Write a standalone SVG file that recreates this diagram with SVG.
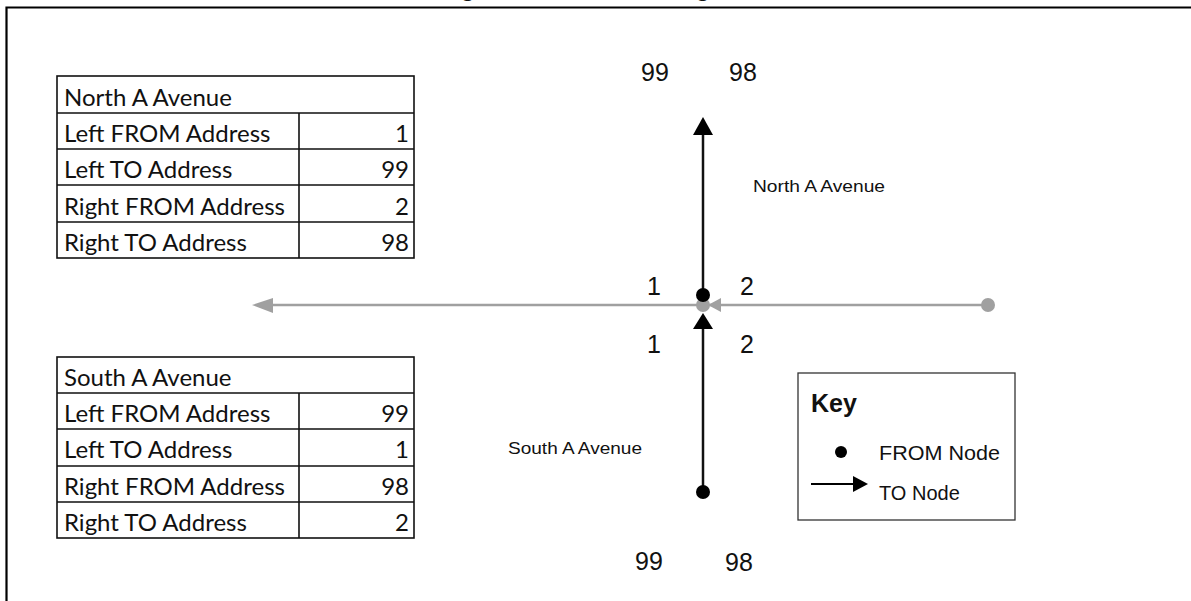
<svg xmlns="http://www.w3.org/2000/svg" width="1191" height="601" viewBox="0 0 1191 601">
<defs>
<style>
.tbl{fill:none;stroke:#111;stroke-width:1.6}
.tt{font-family:Lato,"Open Sans",sans-serif;font-size:24px;fill:#111}
.num{font-family:"Liberation Sans",Arial,sans-serif;font-size:25px;fill:#111}
.lbl{font-family:"Liberation Sans",Arial,sans-serif;font-size:17px;fill:#111}
.road{stroke:#111;stroke-width:2.5}
.groad{stroke:#a0a0a0;stroke-width:2.5}
</style>
</defs>
<rect width="1191" height="601" fill="#fff"/>
<g id="frame">
<path d="M6.5 601 V7.5 H1191" fill="none" stroke="#000" stroke-width="2.2"/>
<text x="462" y="-3" font-family="Lato,'Open Sans',sans-serif" font-size="22" fill="#111">g</text>
<text x="697" y="-3" font-family="Lato,'Open Sans',sans-serif" font-size="22" fill="#111">g</text>
</g>
<g id="north-table">
<rect class="tbl" x="57" y="76" width="357" height="182"/>
<path class="tbl" d="M57 113H414M57 149H414M57 185H414M57 222H414M299 113V258"/>
<text class="tt" x="64" y="106">North A Avenue</text>
<text class="tt" x="64" y="142">Left FROM Address</text>
<text class="tt" x="64" y="178">Left TO Address</text>
<text class="tt" x="64" y="215">Right FROM Address</text>
<text class="tt" x="64" y="251">Right TO Address</text>
<g text-anchor="end">
<text class="tt" x="409" y="142">1</text>
<text class="tt" x="409" y="178">99</text>
<text class="tt" x="409" y="215">2</text>
<text class="tt" x="409" y="251">98</text>
</g>
</g>
<g id="south-table">
<rect class="tbl" x="57" y="357" width="357" height="181"/>
<path class="tbl" d="M57 393H414M57 429H414M57 466H414M57 502H414M299 393V538"/>
<text class="tt" x="64" y="386">South A Avenue</text>
<text class="tt" x="64" y="422">Left FROM Address</text>
<text class="tt" x="64" y="458">Left TO Address</text>
<text class="tt" x="64" y="495">Right FROM Address</text>
<text class="tt" x="64" y="531">Right TO Address</text>
<g text-anchor="end">
<text class="tt" x="409" y="422">99</text>
<text class="tt" x="409" y="458">1</text>
<text class="tt" x="409" y="495">98</text>
<text class="tt" x="409" y="531">2</text>
</g>
</g>
<g id="connectors">
<line class="groad" x1="988" y1="305" x2="270" y2="305"/>
<polygon points="252,305 273,298 273,313" fill="#a0a0a0"/>
<polygon points="708,305 721,298 721,312" fill="#a0a0a0"/>
<line class="road" x1="703" y1="295" x2="703" y2="133"/>
<polygon points="703,117 693,135 713,135" fill="#000"/>
<line class="road" x1="703" y1="492" x2="703" y2="326"/>
<polygon points="703,313 693,329 713,329" fill="#000"/>
</g>
<g id="node-east">
<circle cx="988" cy="305" r="7" fill="#a0a0a0"/>
</g>
<g id="node-center">
<circle cx="703" cy="305" r="7" fill="#a0a0a0"/>
<circle cx="703" cy="295" r="7" fill="#000"/>
</g>
<g id="node-south">
<circle cx="703" cy="492" r="7" fill="#000"/>
</g>
<g id="labels">
<text class="num" x="641" y="81">99</text>
<text class="num" x="729" y="81">98</text>
<text class="lbl" x="753" y="192" textLength="132" lengthAdjust="spacingAndGlyphs">North A Avenue</text>
<text class="num" x="647" y="295">1</text>
<text class="num" x="740" y="295">2</text>
<text class="num" x="647" y="353">1</text>
<text class="num" x="740" y="353">2</text>
<text class="lbl" x="508" y="454" textLength="134" lengthAdjust="spacingAndGlyphs">South A Avenue</text>
<text class="num" x="635" y="570">99</text>
<text class="num" x="725" y="571">98</text>
</g>
<g id="key">
<rect x="798" y="373" width="217" height="147" fill="#fff" stroke="#333" stroke-width="1.3"/>
<text x="811" y="412" font-family="'Liberation Sans',Arial,sans-serif" font-size="25" font-weight="bold" fill="#111">Key</text>
<circle cx="841" cy="452" r="6" fill="#000"/>
<text x="879" y="460" font-family="'Liberation Sans',Arial,sans-serif" font-size="20" fill="#111" textLength="121" lengthAdjust="spacingAndGlyphs">FROM Node</text>
<line x1="811" y1="484" x2="856" y2="484" stroke="#000" stroke-width="2"/>
<polygon points="868,484 853,476 853,492" fill="#000"/>
<text x="879" y="500" font-family="'Liberation Sans',Arial,sans-serif" font-size="20" fill="#111">TO Node</text>
</g>
</svg>
